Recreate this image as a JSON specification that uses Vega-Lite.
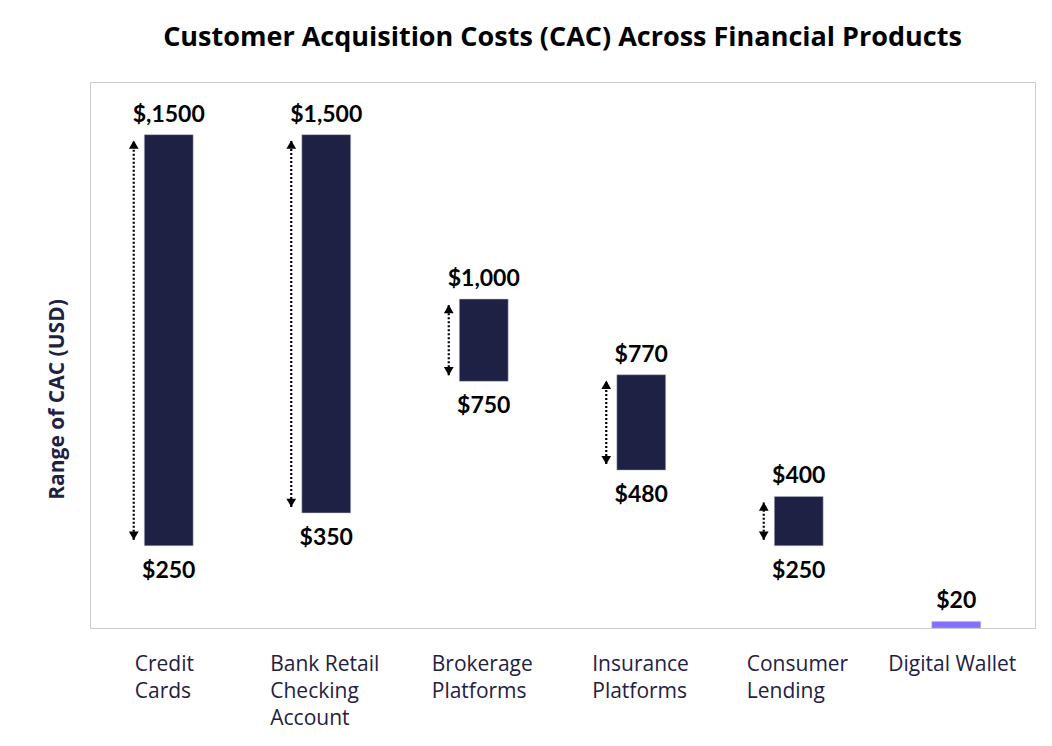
{
  "$schema": "https://vega.github.io/schema/vega-lite/v6.json",
  "autosize": {"type": "none"},
  "padding": {"left": 90, "top": 82, "right": 17, "bottom": 118},
  "width": 945,
  "height": 546,
  "background": "white",
  "title": {
    "text": "Customer Acquisition Costs (CAC) Across Financial Products",
    "font": "Open Sans",
    "fontSize": 27,
    "fontWeight": "bold",
    "color": "black",
    "anchor": "middle",
    "offset": 30
  },
  "data": {
    "values": [
      {"product": "Credit Cards", "low": 250, "high": 1500, "lowLabel": "$250", "highLabel": "$,1500", "kind": "range"},
      {"product": "Bank Retail Checking Account", "low": 350, "high": 1500, "lowLabel": "$350", "highLabel": "$1,500", "kind": "range"},
      {"product": "Brokerage Platforms", "low": 750, "high": 1000, "lowLabel": "$750", "highLabel": "$1,000", "kind": "range"},
      {"product": "Insurance Platforms", "low": 480, "high": 770, "lowLabel": "$480", "highLabel": "$770", "kind": "range"},
      {"product": "Consumer Lending", "low": 250, "high": 400, "lowLabel": "$250", "highLabel": "$400", "kind": "range"},
      {"product": "Digital Wallet", "low": 0, "high": 20, "lowLabel": "", "highLabel": "$20", "kind": "single"}
    ]
  },
  "encoding": {
    "x": {
      "field": "product",
      "type": "nominal",
      "sort": null,
      "scale": {"paddingInner": 0, "paddingOuter": 0},
      "axis": {
        "title": null,
        "ticks": false,
        "domain": false,
        "labelAngle": 0,
        "labelFont": "Open Sans",
        "labelFontSize": 21,
        "labelColor": "#1f2144",
        "labelPadding": 25,
        "labelLineHeight": 27,
        "labelBaseline": "top",
        "labelAlign": "left",
        "labelOffset": {
          "condition": [
            {"test": "datum.value == 'Credit Cards'", "value": -34},
            {"test": "datum.value == 'Bank Retail Checking Account'", "value": -56},
            {"test": "datum.value == 'Insurance Platforms'", "value": -49},
            {"test": "datum.value == 'Digital Wallet'", "value": -68}
          ],
          "value": -52
        },
        "labelExpr": "datum.value == 'Credit Cards' ? ['Credit', 'Cards'] : datum.value == 'Bank Retail Checking Account' ? ['Bank Retail', 'Checking', 'Account'] : datum.value == 'Brokerage Platforms' ? ['Brokerage', 'Platforms'] : datum.value == 'Insurance Platforms' ? ['Insurance', 'Platforms'] : datum.value == 'Consumer Lending' ? ['Consumer', 'Lending'] : datum.value"
      }
    },
    "y": {
      "field": "low",
      "type": "quantitative",
      "scale": {"domain": [0, 1660], "nice": false},
      "axis": {
        "title": "Range of CAC (USD)",
        "labels": false,
        "ticks": false,
        "domain": false,
        "grid": false,
        "titleFont": "Open Sans",
        "titleFontSize": 21,
        "titleFontWeight": "bold",
        "titleColor": "#1f2144",
        "titleX": -33,
        "titleY": 317,
        "titleAngle": 270,
        "titleAlign": "center",
        "titleBaseline": "middle"
      }
    }
  },
  "layer": [
    {
      "mark": {"type": "bar", "width": {"band": 0.31}, "stroke": "#b8b8c8", "strokeWidth": 0.5},
      "encoding": {
        "y2": {"field": "high"},
        "color": {
          "field": "kind",
          "type": "nominal",
          "scale": {"domain": ["range", "single"], "range": ["#1f2144", "#8470ff"]},
          "legend": null
        }
      }
    },
    {
      "transform": [{"filter": "datum.kind == 'range'"}],
      "mark": {"type": "rule", "xOffset": -35, "yOffset": -6, "y2Offset": 6, "strokeDash": [2, 2], "strokeWidth": 2.2, "color": "black"},
      "encoding": {"y2": {"field": "high"}}
    },
    {
      "transform": [{"filter": "datum.kind == 'range'"}],
      "mark": {"type": "point", "shape": "triangle-up", "filled": true, "size": 95, "xOffset": -35, "yOffset": 10, "color": "black", "opacity": 1},
      "encoding": {"y": {"field": "high", "type": "quantitative"}}
    },
    {
      "transform": [{"filter": "datum.kind == 'range'"}],
      "mark": {"type": "point", "shape": "triangle-down", "filled": true, "size": 95, "xOffset": -35, "yOffset": -10, "color": "black", "opacity": 1},
      "encoding": {"y": {"field": "low", "type": "quantitative"}}
    },
    {
      "mark": {"type": "text", "font": "Lato", "fontSize": 23, "fontWeight": "bold", "color": "black", "baseline": "bottom", "dy": -8},
      "encoding": {
        "y": {"field": "high", "type": "quantitative"},
        "text": {"field": "highLabel"}
      }
    },
    {
      "mark": {"type": "text", "font": "Lato", "fontSize": 23, "fontWeight": "bold", "color": "black", "baseline": "top", "dy": 14},
      "encoding": {
        "text": {"field": "lowLabel"}
      }
    }
  ],
  "config": {
    "view": {"stroke": "#cccccc", "strokeWidth": 1}
  }
}
